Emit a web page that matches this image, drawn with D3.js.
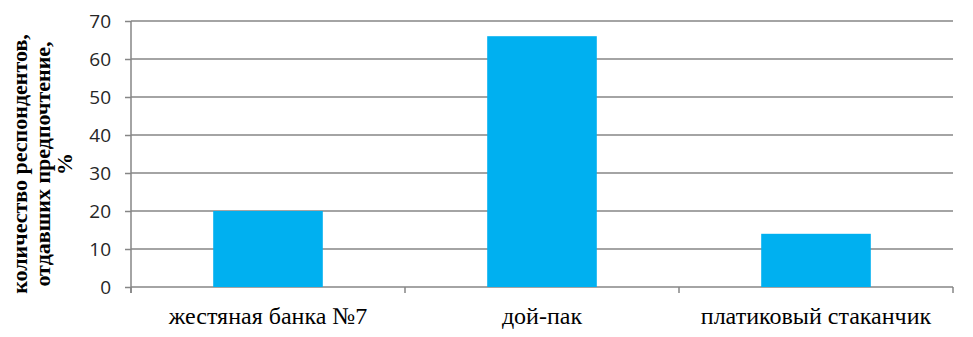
<!DOCTYPE html>
<html>
<head>
<meta charset="utf-8">
<script src="https://cdn.jsdelivr.net/npm/d3@7"></script>
<style>
  body { margin: 0; background: #fff; }
</style>
</head>
<body>
<div id="chart"></div>
<script>
var categories = ["жестяная банка №7", "дой-пак", "платиковый стаканчик"];
var values = [20, 66, 14];
var yTicks = [0, 10, 20, 30, 40, 50, 60, 70];
var titleLines = ["количество респондентов,", "отдавших предпочтение,", "%"];

var svgWidth = 973;
var svgHeight = 337;
var margin = { top: 21, right: 20, bottom: 50, left: 131 };
var width = 953 - margin.left;
var height = 287 - margin.top;
var serif = "Liberation Serif, Times New Roman, serif";

var svg = d3.select("#chart")
  .append("svg")
  .attr("width", svgWidth)
  .attr("height", svgHeight);

var chartGroup = svg.append("g")
  .attr("transform", `translate(${margin.left}, ${margin.top})`);

var xScale = d3.scaleBand()
  .domain(categories)
  .range([0, width])
  .paddingInner(0.6)
  .paddingOuter(0.3);

var yScale = d3.scaleLinear()
  .domain([0, 70])
  .range([height, 0]);

// gridlines
chartGroup.append("g")
  .selectAll("line")
  .data(yTicks)
  .enter()
  .append("line")
  .attr("x1", 0)
  .attr("x2", width)
  .attr("y1", d => yScale(d))
  .attr("y2", d => yScale(d))
  .attr("stroke", "#868686")
  .attr("stroke-width", 1.5);

// bars
chartGroup.selectAll("rect")
  .data(values)
  .enter()
  .append("rect")
  .attr("x", (d, i) => xScale(categories[i]))
  .attr("y", d => yScale(d))
  .attr("width", xScale.bandwidth())
  .attr("height", d => height - yScale(d))
  .attr("fill", "#00B0F0");

// y axis
var leftAxis = d3.axisLeft(yScale).tickValues(yTicks).tickSize(6).tickPadding(14);
var yAxisG = chartGroup.append("g").call(leftAxis);
yAxisG.select(".domain").attr("stroke", "#868686").attr("stroke-width", 1.5)
  .attr("d", `M0,${height + 6}V0`);
yAxisG.selectAll(".tick line").attr("stroke", "#868686").attr("stroke-width", 1.5);
yAxisG.selectAll(".tick text")
  .attr("font-family", "Open Sans, Liberation Sans, sans-serif")
  .attr("font-size", 19)
  .attr("fill", "#262626");

// x axis: ticks at category boundaries
var step = width / categories.length;
var xAxisG = chartGroup.append("g").attr("transform", `translate(0, ${height})`);
xAxisG.selectAll("line.bound")
  .data(d3.range(categories.length + 1))
  .enter()
  .append("line")
  .attr("x1", d => d * step)
  .attr("x2", d => d * step)
  .attr("y1", 0)
  .attr("y2", 6)
  .attr("stroke", "#868686")
  .attr("stroke-width", 1.5);

xAxisG.selectAll("text")
  .data(categories)
  .enter()
  .append("text")
  .attr("x", d => xScale(d) + xScale.bandwidth() / 2)
  .attr("y", 37)
  .attr("text-anchor", "middle")
  .attr("font-family", serif)
  .attr("font-size", 24)
  .attr("fill", "#000")
  .text(d => d);

// y axis title
var title = svg.append("text")
  .attr("transform", "translate(27, 164) rotate(-90)")
  .attr("text-anchor", "middle")
  .attr("font-family", serif)
  .attr("font-weight", "bold")
  .attr("font-size", 22)
  .attr("fill", "#000");

title.selectAll("tspan")
  .data(titleLines)
  .enter()
  .append("tspan")
  .attr("x", 0)
  .attr("dy", (d, i) => i === 0 ? 0 : 22.5)
  .text(d => d);
</script>
</body>
</html>
